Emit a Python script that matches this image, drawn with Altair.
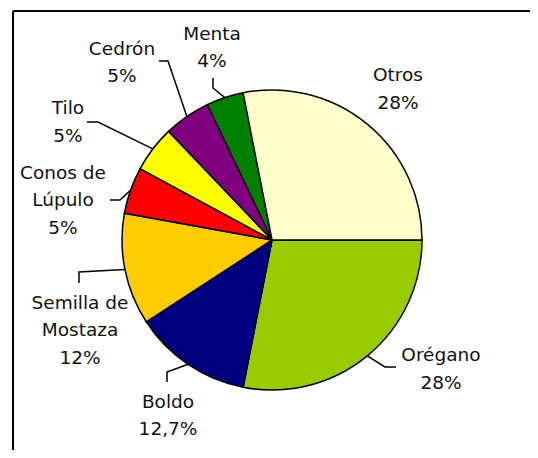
import altair as alt
import numpy as np
import pandas as pd

# ---- data ----
categories = ["Orégano", "Boldo", "Semilla de Mostaza", "Conos de Lúpulo",
              "Tilo", "Cedrón", "Menta", "Otros"]
values = [28, 12.7, 12, 5, 5, 5, 4, 28]
value_labels = ["28%", "12,7%", "12%", "5%", "5%", "5%", "4%", "28%"]
label_names = ["Orégano", "Boldo", "Semilla de\nMostaza", "Conos de\nLúpulo",
               "Tilo", "Cedrón", "Menta", "Otros"]
colors = ["#99CC00", "#000080", "#FFCC00", "#FF0000",
          "#FFFF00", "#800080", "#008000", "#FFFFCC"]

# ---- layout (annotation placement, relative to pie centre, px) ----
W, H = 522, 442
CX, CY, R = 264, 232, 150
LH = 27.5
LABEL_POS = {
    "Orégano": (169, 129), "Boldo": (-104, 175.5), "Semilla de Mostaza": (-192, 90),
    "Conos de Lúpulo": (-209, -40), "Tilo": (-204, -118), "Cedrón": (-150, -177.5),
    "Menta": (-60, -192.5), "Otros": (126, -151),
}
LEADER_PTS = {
    "Orégano": [(113, 127), (124, 127)], "Boldo": [(-105, 132), (-105, 142)],
    "Semilla de Mostaza": [(-193, 32), (-193, 43)], "Conos de Lúpulo": [(-152, -40), (-162, -40)],
    "Tilo": [(-174, -118), (-185, -118)], "Cedrón": [(-104, -179), (-113, -179)],
    "Menta": [(-59, -152), (-59, -162)], "Otros": [],
}

df = pd.DataFrame({"cat": categories, "val": values, "order": range(len(categories))})

total = sum(values)
cum = 0.0
lead_rows, lab_rows = [], []
for c, v, nm, vl in zip(categories, values, label_names, value_labels):
    mid = np.pi / 2 + (cum + v / 2) / total * 2 * np.pi
    cum += v
    pts = LEADER_PTS[c]
    if pts:
        lead_rows.append({"cat": c, "i": 0, "x": R * np.sin(mid), "y": -R * np.cos(mid)})
        for k, (px, py) in enumerate(pts):
            lead_rows.append({"cat": c, "i": k + 1, "x": px, "y": py})
    lx, ly = LABEL_POS[c]
    txt = nm + "\n" + vl
    n = txt.count("\n") + 1
    lab_rows.append({"cat": c, "x": lx, "y": ly - (n - 1) * LH / 2, "txt": txt})

leaders = pd.DataFrame(lead_rows)
labels = pd.DataFrame(lab_rows)

xs = alt.Scale(domain=[-CX, W - CX], nice=False, zero=False)
ys = alt.Scale(domain=[-CY, H - CY], nice=False, zero=False, reverse=True)

pie = alt.Chart(df).mark_arc(outerRadius=R, stroke="black", strokeWidth=1.5).encode(
    theta=alt.Theta("val:Q", stack=True,
                    scale=alt.Scale(range=[np.pi / 2, np.pi / 2 + 2 * np.pi])),
    color=alt.Color("cat:N", scale=alt.Scale(domain=categories, range=colors), legend=None),
    order=alt.Order("order:Q"),
    x=alt.value(CX), y=alt.value(CY),
)

lead = alt.Chart(leaders).mark_line(color="black", strokeWidth=1.5).encode(
    x=alt.X("x:Q", scale=xs, axis=None),
    y=alt.Y("y:Q", scale=ys, axis=None),
    detail="cat:N",
    order="i:Q",
)

text = alt.Chart(labels).mark_text(
    font="DejaVu Sans", fontSize=18.5, color="#111111", lineBreak="\n",
    lineHeight=LH, align="center", baseline="middle",
).encode(
    x=alt.X("x:Q", scale=xs, axis=None),
    y=alt.Y("y:Q", scale=ys, axis=None),
    text="txt:N",
)

one = pd.DataFrame({"a": [0]})
frame_top = alt.Chart(one).mark_rule(color="black", strokeWidth=2).encode(
    x=alt.value(5), x2=alt.value(W), y=alt.value(3))
frame_left = alt.Chart(one).mark_rule(color="black", strokeWidth=2).encode(
    x=alt.value(5), y=alt.value(3), y2=alt.value(H))

chart = alt.layer(frame_top, frame_left, pie, lead, text).properties(
    width=W, height=H, padding=0, autosize=alt.AutoSizeParams(type="none"),
).configure_view(stroke=None)

chart.save("out.html", embed_options={"renderer": "svg", "actions": False})
